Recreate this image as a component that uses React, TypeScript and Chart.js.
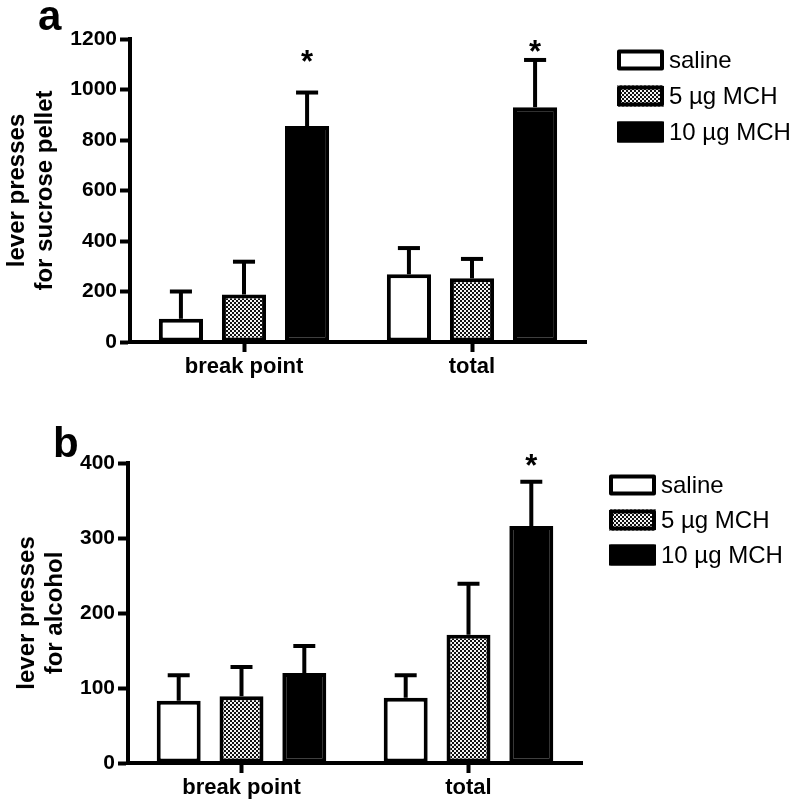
import React, { useEffect, useRef } from 'react';
import { Chart, registerables } from 'chart.js';

Chart.register(...registerables);

// ---------- data ----------
const categories = ['break point', 'total'];
const seriesLabels = ['saline', '5 µg MCH', '10 µg MCH'];

// panel a: sucrose pellet
const sucroseSaline = [92, 268];
const sucrose5 = [188, 252];
const sucrose10 = [855, 930];
const sucroseSalineErr = [108, 104];
const sucrose5Err = [130, 77];
const sucrose10Err = [133, 187];
const sucroseStars = [1140, 1180]; // asterisks over 10 µg bars
const sucroseTicks = [0, 200, 400, 600, 800, 1000, 1200];

// panel b: alcohol
const alcoholSaline = [83, 87];
const alcohol5 = [89, 171];
const alcohol10 = [120, 316];
const alcoholSalineErr = [34, 30];
const alcohol5Err = [39, 68];
const alcohol10Err = [36, 59];
const alcoholStars: (number | null)[] = [null, 407];
const alcoholTicks = [0, 100, 200, 300, 400];

const FONT = 'Arial, "Liberation Sans", sans-serif';

type Panel = {
  letter: string;
  letterX: number;
  letterY: number;
  series: number[][];
  errors: number[][];
  stars: (number | null)[];
  yTicks: number[];
  yTitle: string[];
  titlePad: number;
  height: number;
  areaTop: number;
  areaLeft: number;
  areaRight: number;
  xScaleH: number;
  legendX: number;
  legendY: number;
  legendStep: number;
};

function makePattern(): CanvasPattern | string {
  const pc = document.createElement('canvas');
  pc.width = 4;
  pc.height = 4;
  const c = pc.getContext('2d');
  if (!c) return '#888';
  c.fillStyle = '#f4f4f4';
  c.fillRect(0, 0, 4, 4);
  c.fillStyle = '#111';
  c.fillRect(0, 0, 2, 2);
  c.fillRect(2, 2, 2, 2);
  const p = c.createPattern(pc, 'repeat');
  return p || '#888';
}

function buildChart(canvas: HTMLCanvasElement, p: Panel) {
  const pattern = makePattern();
  const fills: any[] = ['#ffffff', pattern, '#000000'];
  const datasets = p.series.map((vals, i) => ({
    label: seriesLabels[i],
    data: vals,
    backgroundColor: fills[i],
    borderColor: '#000',
    borderWidth: 4,
    borderSkipped: false as const,
    barPercentage: 0.7,
    categoryPercentage: 0.83,
  }));

  const overlay = {
    id: 'overlay',
    afterDraw(chart: any) {
      const ctx: CanvasRenderingContext2D = chart.ctx;
      const y = chart.scales.y;
      ctx.save();
      // error bars
      ctx.strokeStyle = '#000';
      ctx.lineWidth = 4;
      ctx.lineCap = 'butt';
      p.errors.forEach((errs, di) => {
        const meta = chart.getDatasetMeta(di);
        meta.data.forEach((bar: any, j: number) => {
          const top = y.getPixelForValue(p.series[di][j] + errs[j]);
          const half = bar.width * 0.25;
          ctx.beginPath();
          ctx.moveTo(bar.x, bar.y);
          ctx.lineTo(bar.x, top);
          ctx.stroke();
          ctx.beginPath();
          ctx.moveTo(bar.x - half, top);
          ctx.lineTo(bar.x + half, top);
          ctx.stroke();
        });
      });
      // asterisks
      const starSize = 31;
      ctx.fillStyle = '#000';
      ctx.font = `bold ${starSize}px ${FONT}`;
      ctx.textAlign = 'center';
      ctx.textBaseline = 'alphabetic';
      const meta10 = chart.getDatasetMeta(2);
      p.stars.forEach((s, j) => {
        if (s == null) return;
        const bar: any = meta10.data[j];
        const cy = y.getPixelForValue(s);
        ctx.fillText('*', bar.x, cy + starSize * 0.585);
      });
      // legend
      const boxW = 47;
      const boxH = 21;
      ctx.font = `24px ${FONT}`;
      ctx.textAlign = 'left';
      ctx.textBaseline = 'middle';
      datasets.forEach((ds, i) => {
        const cy = p.legendY + i * p.legendStep;
        const bx = p.legendX;
        const by = cy - boxH / 2;
        ctx.fillStyle = ds.backgroundColor;
        ctx.fillRect(bx, by, boxW, boxH);
        ctx.lineWidth = 4;
        ctx.lineJoin = 'round';
        ctx.strokeStyle = '#000';
        ctx.strokeRect(bx + 2, by + 2, boxW - 4, boxH - 4);
        ctx.fillStyle = '#000';
        ctx.fillText(ds.label, bx + boxW + 5, cy + 1);
      });
      // panel letter
      ctx.font = `bold 42px ${FONT}`;
      ctx.textBaseline = 'alphabetic';
      ctx.fillText(p.letter, p.letterX, p.letterY);
      ctx.restore();
    },
  };

  const yTickFont = { family: FONT, size: 21, weight: 'bold' as const };
  const xTickFont = { family: FONT, size: 22, weight: 'bold' as const };

  return new Chart(canvas, {
    type: 'bar',
    data: { labels: categories, datasets },
    options: {
      animation: false,
      responsive: false,
      maintainAspectRatio: false,
      layout: {
        padding: { left: 0, top: p.areaTop, right: 800 - p.areaRight, bottom: 0 },
      },
      plugins: {
        legend: { display: false },
        tooltip: { enabled: false },
        title: { display: false },
      },
      scales: {
        x: {
          type: 'category',
          afterFit: (s: any) => {
            s.height = p.xScaleH;
          },
          border: { display: true, color: '#000', width: 4 },
          grid: {
            offset: false,
            drawOnChartArea: false,
            drawTicks: true,
            tickLength: 10,
            tickWidth: 4,
            tickColor: '#000',
            color: '#000',
          },
          ticks: { color: '#000', font: xTickFont, padding: 2, maxRotation: 0 },
        },
        y: {
          type: 'linear',
          min: p.yTicks[0],
          max: p.yTicks[p.yTicks.length - 1],
          afterBuildTicks: (s: any) => {
            s.ticks = p.yTicks.map((v) => ({ value: v }));
          },
          afterFit: (s: any) => {
            s.width = p.areaLeft;
          },
          border: { display: true, color: '#000', width: 4 },
          grid: {
            drawOnChartArea: false,
            drawTicks: true,
            tickLength: 10,
            tickWidth: 4,
            tickColor: '#000',
            color: '#000',
          },
          ticks: {
            color: '#000',
            font: yTickFont,
            padding: 3,
            callback: (v: any) => String(v),
          },
          title: {
            display: true,
            text: p.yTitle,
            color: '#000',
            font: { family: FONT, size: 24, weight: 'bold', lineHeight: 1.15 },
            padding: { top: p.titlePad, bottom: 0 },
          },
        },
      },
    } as any,
    plugins: [overlay],
  });
}

const panelA: Panel = {
  letter: 'a',
  letterX: 38,
  letterY: 30,
  series: [sucroseSaline, sucrose5, sucrose10],
  errors: [sucroseSalineErr, sucrose5Err, sucrose10Err],
  stars: sucroseStars,
  yTicks: sucroseTicks,
  yTitle: ['lever presses', 'for sucrose pellet'],
  titlePad: 4,
  height: 390,
  areaTop: 39,
  areaLeft: 130,
  areaRight: 586,
  xScaleH: 48,
  legendX: 617,
  legendY: 60,
  legendStep: 36,
};

const panelB: Panel = {
  letter: 'b',
  letterX: 53,
  letterY: 67,
  series: [alcoholSaline, alcohol5, alcohol10],
  errors: [alcoholSalineErr, alcohol5Err, alcohol10Err],
  stars: alcoholStars,
  yTicks: alcoholTicks,
  yTitle: ['lever presses', 'for alcohol'],
  titlePad: 14,
  height: 415,
  areaTop: 73,
  areaLeft: 128,
  areaRight: 582,
  xScaleH: 42,
  legendX: 609,
  legendY: 95,
  legendStep: 35,
};

function PanelChart({ panel, top }: { panel: Panel; top: number }) {
  const ref = useRef<HTMLCanvasElement | null>(null);
  useEffect(() => {
    if (!ref.current) return;
    const chart = buildChart(ref.current, panel);
    return () => chart.destroy();
  }, [panel]);
  return (
    <canvas
      ref={ref}
      width={800}
      height={panel.height}
      style={{ position: 'absolute', left: 0, top, width: 800, height: panel.height, display: 'block' }}
    />
  );
}

export default function App() {
  return (
    <div style={{ position: 'absolute', left: 0, top: 0, width: 800, height: 805, background: '#fff' }}>
      <PanelChart panel={panelA} top={0} />
      <PanelChart panel={panelB} top={390} />
    </div>
  );
}
